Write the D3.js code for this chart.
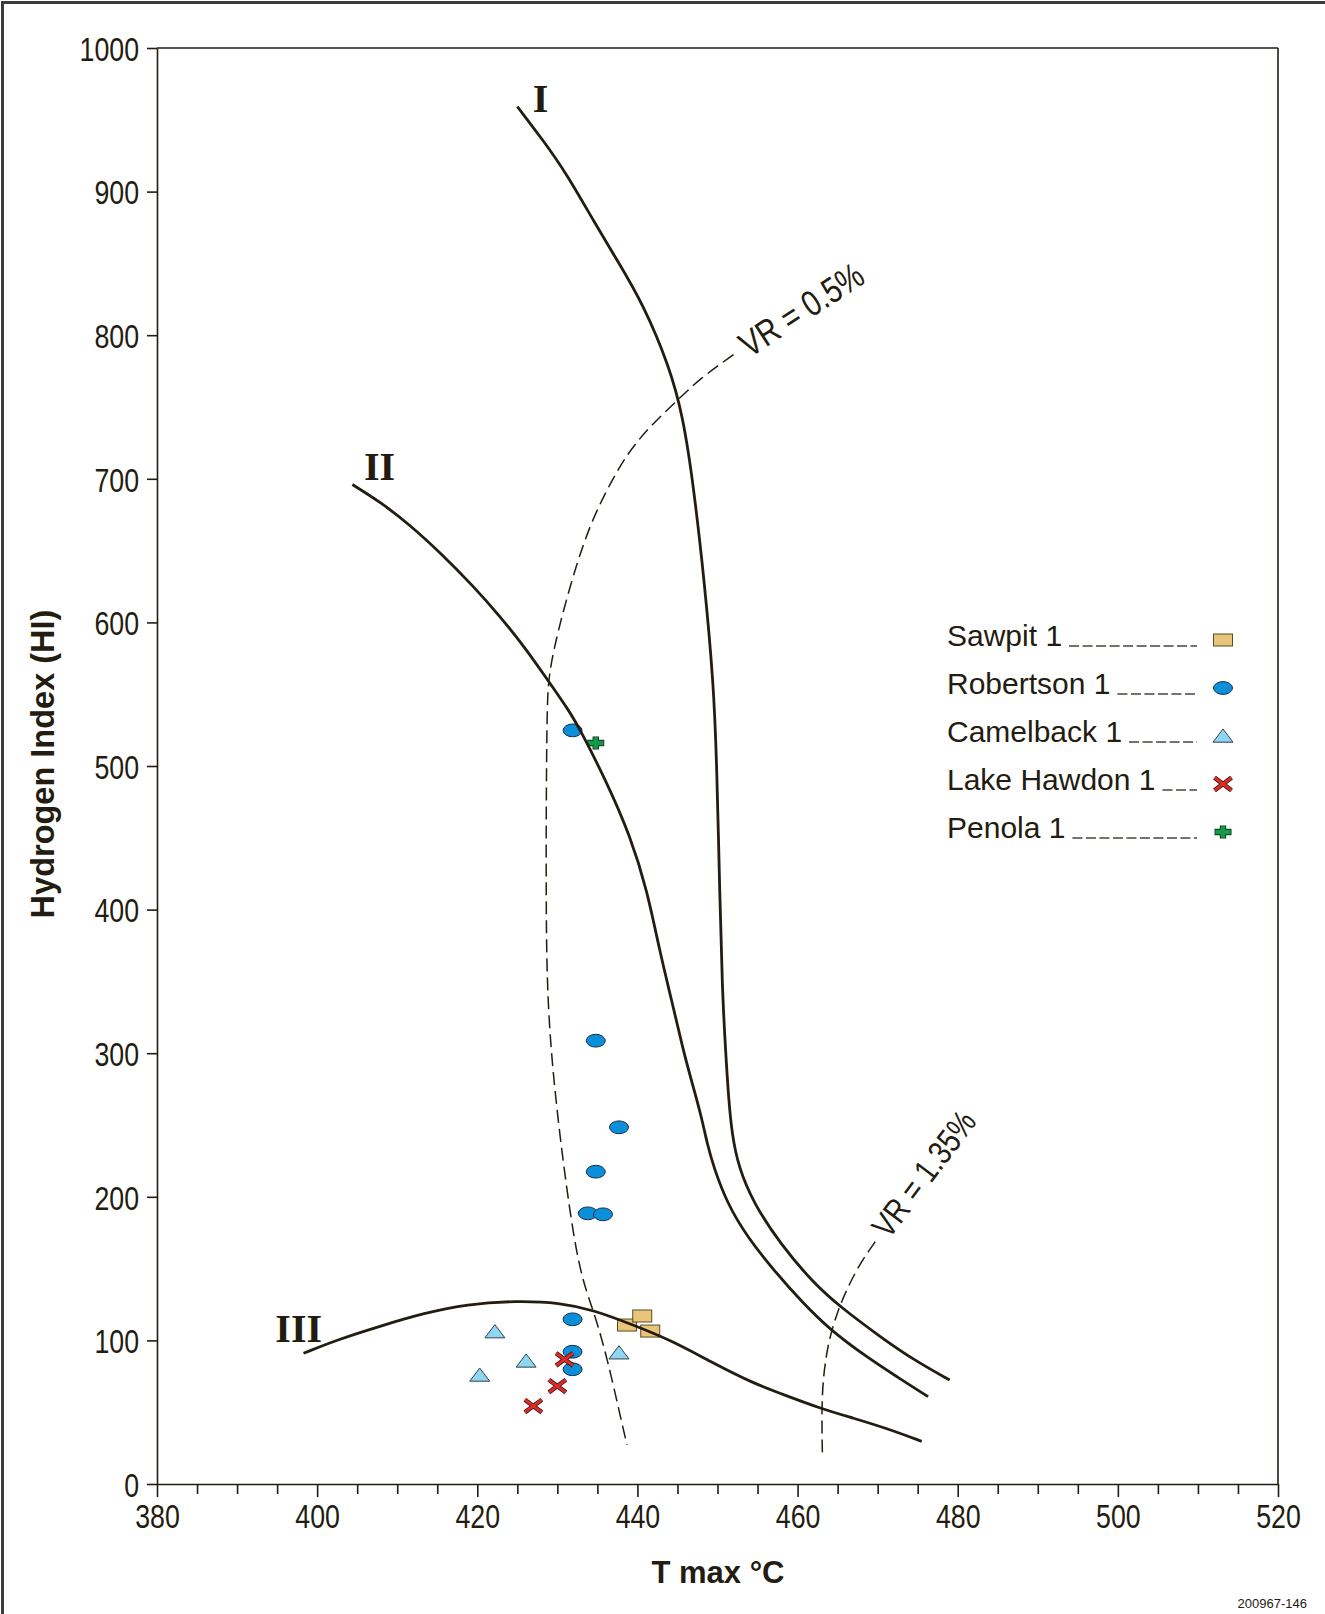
<!DOCTYPE html>
<html>
<head>
<meta charset="utf-8">
<script src="https://cdn.jsdelivr.net/npm/d3@7"></script>
<style>
  html, body { margin: 0; padding: 0; background: #fff; }
  svg { display: block; }
</style>
</head>
<body>
<script>
// ---- Data -------------------------------------------------------------
const xTicksMajor = [380, 400, 420, 440, 460, 480, 500, 520];
const yTicks = [0, 100, 200, 300, 400, 500, 600, 700, 800, 900, 1000];

// Kerogen type evolution paths  [Tmax °C, HI]
const typeI = [[425.0,959.2],[428.1,936.6],[431.1,913.0],[434.6,878.8],[437.6,851.0],[440.7,821.7],
  [444.0,778.1],[445.7,743.2],[447.0,695.5],[448.4,626.7],[449.5,557.9],[449.9,504.2],[450.3,406.7],
  [450.6,344.0],[451.0,302.2],[451.4,267.4],[451.8,244.2],[452.6,221.0],[454.5,195.5],[457.8,167.6],
  [462.0,139.8],[465.3,123.5],[470.3,102.6],[474.5,86.4],[479.0,72.4]];
const typeII = [[404.4,696.0],[407.9,683.8],[411.6,667.8],[415.3,649.0],[419.5,625.3],[422.8,604.5],
  [426.0,582.2],[428.7,560.6],[431.4,539.1],[432.8,525.8],[436.2,488.4],[439.1,451.3],[441.2,413.8],
  [442.8,370.5],[444.3,336.3],[445.7,302.2],[446.9,277.9],[448.0,255.6],[448.7,237.3],[449.5,221.0],
  [451.2,195.5],[453.7,172.2],[457.0,149.0],[460.7,125.8],[464.1,107.2],[468.6,88.6],[472.4,74.7],[476.3,60.8]];
const typeIII = [[398.3,91.0],[402.4,100.3],[408.3,110.7],[413.3,118.9],[418.7,125.3],[424.9,127.6],
  [430.3,126.3],[434.5,121.2],[439.5,110.7],[444.1,100.3],[449.5,84.1],[454.5,70.1],[457.8,63.2],
  [462.8,52.7],[467.0,45.8],[471.1,38.8],[475.5,29.7]];

// Vitrinite reflectance iso-lines
const vr050 = [[452.0,786.4],[447.8,769.8],[445.0,754.7],[441.6,736.8],[438.7,717.5],[436.2,692.8],
  [434.1,668.0],[432.4,640.5],[430.7,607.4],[429.5,579.9],[428.9,560.6],[428.7,539.1],[428.6,466.6],
  [428.6,406.7],[428.7,342.3],[429.5,280.1],[431.2,202.4],[432.8,146.4],[434.5,121.2],[436.2,88.6],
  [438.2,38.8],[438.7,27.2]];
const vr135 = [[469.7,168.7],[467.8,153.7],[466.1,135.1],[464.9,118.9],[463.8,98.0],[463.2,74.7],
  [463.0,51.5],[463.1,21.1]];

// Well samples
const sawpitTmax = [438.7, 440.6, 441.6];
const sawpitHI = [110.7, 117.0, 106.5];
const robertsonTmax = [431.9, 434.8, 437.7, 434.8, 433.8, 435.7, 431.9, 431.9, 431.9];
const robertsonHI = [524.8, 308.7, 248.4, 217.5, 188.5, 187.8, 114.7, 92.1, 79.9];
const camelbackTmax = [422.2, 426.1, 420.3, 437.7];
const camelbackHI = [106.1, 85.7, 75.9, 91.4];
const lakeHawdonTmax = [430.9, 430.0, 427.0];
const lakeHawdonHI = [86.8, 68.2, 54.3];
const penolaTmax = [434.8];
const penolaHI = [516.0];

const wellNames = ["Sawpit 1", "Robertson 1", "Camelback 1", "Lake Hawdon 1", "Penola 1"];
const wellSymbols = ["rect", "ellipse", "triangle", "cross", "plus"];

// ---- Layout -----------------------------------------------------------
const W = 1325, H = 1614;
const ink = "#231c10";
const narrow = 0.81;   // horizontal squeeze for condensed numerals

const svg = d3.select("body").append("svg")
  .attr("width", W).attr("height", H)
  .attr("font-family", "'Liberation Sans', Arial, Helvetica, sans-serif");

svg.append("rect").attr("width", W).attr("height", H).attr("fill", "#fff");
// outer frame (top and left edges visible)
svg.append("rect").attr("x", 2.5).attr("y", 2.5).attr("width", W + 10).attr("height", H + 10)
  .attr("fill", "none").attr("stroke", "#3c3c3c").attr("stroke-width", 3);

const x = d3.scaleLinear().domain([380, 520]).range([157, 1278]);
const y = d3.scaleLinear().domain([0, 1000]).range([1484, 48]);

const styleAxis = g => {
  g.selectAll("path, line").attr("stroke", ink).attr("stroke-width", 1.6);
  g.selectAll("text").attr("fill", ink);
};

// plot box top and right
svg.append("line").attr("x1", x(380)).attr("x2", x(520)).attr("y1", y(1000)).attr("y2", y(1000))
  .attr("stroke", ink).attr("stroke-width", 1.6);
svg.append("line").attr("x1", x(520)).attr("x2", x(520)).attr("y1", y(1000)).attr("y2", y(0))
  .attr("stroke", ink).attr("stroke-width", 1.6);

// minor x ticks every 5 °C
const minorTicks = d3.range(380, 521, 5).filter(v => v % 20 !== 0);
svg.append("g").attr("transform", `translate(0,${y(0)})`)
  .call(d3.axisBottom(x).tickValues(minorTicks).tickSize(10).tickFormat(""))
  .call(g => g.select(".domain").remove())
  .call(styleAxis);

// major x ticks + labels
svg.append("g").attr("transform", `translate(0,${y(0)})`)
  .call(d3.axisBottom(x).tickValues(xTicksMajor).tickSize(13).tickSizeOuter(0).tickPadding(0)
    .tickFormat(d3.format("d")))
  .call(styleAxis)
  .call(g => g.selectAll("text")
    .attr("font-size", 33).attr("y", 44).attr("dy", 0)
    .attr("transform", `scale(${narrow},1)`));

// y axis
svg.append("g").attr("transform", `translate(${x(380)},0)`)
  .call(d3.axisLeft(y).tickValues(yTicks).tickSize(10).tickSizeOuter(0).tickFormat(d3.format("d")))
  .call(styleAxis)
  .call(g => g.selectAll("text")
    .attr("font-size", 33).attr("x", -18 / narrow).attr("dy", "0.37em")
    .attr("transform", `scale(${narrow},1)`));

// axis titles
svg.append("text")
  .attr("transform", `translate(54,764) rotate(-90)`)
  .attr("text-anchor", "middle").attr("font-weight", "bold").attr("font-size", 32.5)
  .attr("fill", ink).text("Hydrogen Index (HI)");
svg.append("text")
  .attr("x", 718).attr("y", 1583)
  .attr("text-anchor", "middle").attr("font-weight", "bold").attr("font-size", 31)
  .attr("fill", ink).text("T max °C");

svg.append("text").attr("x", 1307).attr("y", 1608).attr("text-anchor", "end")
  .attr("font-size", 13).attr("fill", ink).text("200967-146");

// ---- Markers ----------------------------------------------------------
function drawSymbol(g, type) {
  if (type === "rect") {
    g.append("rect").attr("x", -9.5).attr("y", -6).attr("width", 19).attr("height", 12)
      .attr("fill", "#E8C578").attr("stroke", "#5c4a28").attr("stroke-width", 1);
  } else if (type === "ellipse") {
    g.append("ellipse").attr("rx", 9.5).attr("ry", 6.4)
      .attr("fill", "#0A8FD8").attr("stroke", "#1b2f45").attr("stroke-width", 1);
  } else if (type === "triangle") {
    g.append("path").attr("d", "M0,-7L10,6.2L-10,6.2Z")
      .attr("fill", "#8FD6F3").attr("stroke", "#34414a").attr("stroke-width", 1);
  } else if (type === "cross") {
    const d = "M-8.5,-6.3L8.5,6.3M-8.5,6.3L8.5,-6.3";
    g.append("path").attr("d", d).attr("stroke", "#4a1a14").attr("stroke-width", 4.6).attr("fill", "none");
    g.append("path").attr("d", d).attr("stroke", "#DC2B2A").attr("stroke-width", 2.8).attr("fill", "none");
  } else if (type === "plus") {
    const d = "M-8.5,0L8.5,0M0,-6.5L0,6.5";
    g.append("path").attr("d", d).attr("stroke", "#12351f").attr("stroke-width", 6.4).attr("fill", "none");
    g.append("path").attr("d", "M-7.7,0L7.7,0M0,-5.7L0,5.7").attr("stroke", "#119B48")
      .attr("stroke-width", 4.4).attr("fill", "none");
  }
}

function plotWell(tmax, hi, type) {
  const layer = svg.append("g");
  tmax.forEach((t, i) => {
    const g = layer.append("g").attr("transform", `translate(${x(t)},${y(hi[i])})`);
    drawSymbol(g, type);
  });
}
plotWell(camelbackTmax, camelbackHI, "triangle");
plotWell(robertsonTmax, robertsonHI, "ellipse");
plotWell(sawpitTmax, sawpitHI, "rect");
plotWell(lakeHawdonTmax, lakeHawdonHI, "cross");
plotWell(penolaTmax, penolaHI, "plus");

// ---- Curves -----------------------------------------------------------
const line = d3.line().x(d => x(d[0])).y(d => y(d[1])).curve(d3.curveBasis);

[typeI, typeII, typeIII].forEach(c => {
  svg.append("path").attr("d", line(c)).attr("fill", "none")
    .attr("stroke", ink).attr("stroke-width", 2.8).attr("stroke-linecap", "butt");
});
[vr050, vr135].forEach(c => {
  svg.append("path").attr("d", line(c)).attr("fill", "none")
    .attr("stroke", ink).attr("stroke-width", 1.5).attr("stroke-dasharray", "13,6");
});

// curve labels
const romanLabels = [["I", 427.9, 955.6], ["II", 407.8, 699.2], ["III", 397.7, 99.1]];
romanLabels.forEach(([t, tx, hy]) => {
  svg.append("text").attr("x", x(tx)).attr("y", y(hy)).attr("text-anchor", "middle")
    .attr("font-family", "'Liberation Serif', 'Times New Roman', serif").attr("font-weight", "bold")
    .attr("font-size", 40).attr("fill", ink).text(t);
});

// iso-reflectance labels
const vrLabels = [["VR = 0.5%", 454.0, 784.0, -33, 36], ["VR = 1.35%", 471.4, 170.0, -53, 34]];
vrLabels.forEach(([t, tx, hy, ang, fs]) => {
  svg.append("text")
    .attr("transform", `translate(${x(tx)},${y(hy)}) rotate(${ang}) scale(${narrow},1)`)
    .attr("font-size", fs).attr("fill", ink).text(t);
});

// ---- Legend -----------------------------------------------------------
const legendX = 947, legendY0 = 646, legendStep = 48, leaderEnd = 1197, symbolX = 1223;
wellNames.forEach((name, i) => {
  const by = legendY0 + i * legendStep;
  const txt = svg.append("text").attr("x", legendX).attr("y", by)
    .attr("font-size", 30).attr("fill", ink).text(name);
  const tEnd = legendX + txt.node().getComputedTextLength();
  svg.append("line").attr("x1", tEnd + 7).attr("x2", leaderEnd).attr("y1", by).attr("y2", by)
    .attr("stroke", "#4a4438").attr("stroke-width", 1.5).attr("stroke-dasharray", "10,3.5");
  const g = svg.append("g").attr("transform", `translate(${symbolX},${by - 6})`);
  drawSymbol(g, wellSymbols[i]);
});
</script>
</body>
</html>
